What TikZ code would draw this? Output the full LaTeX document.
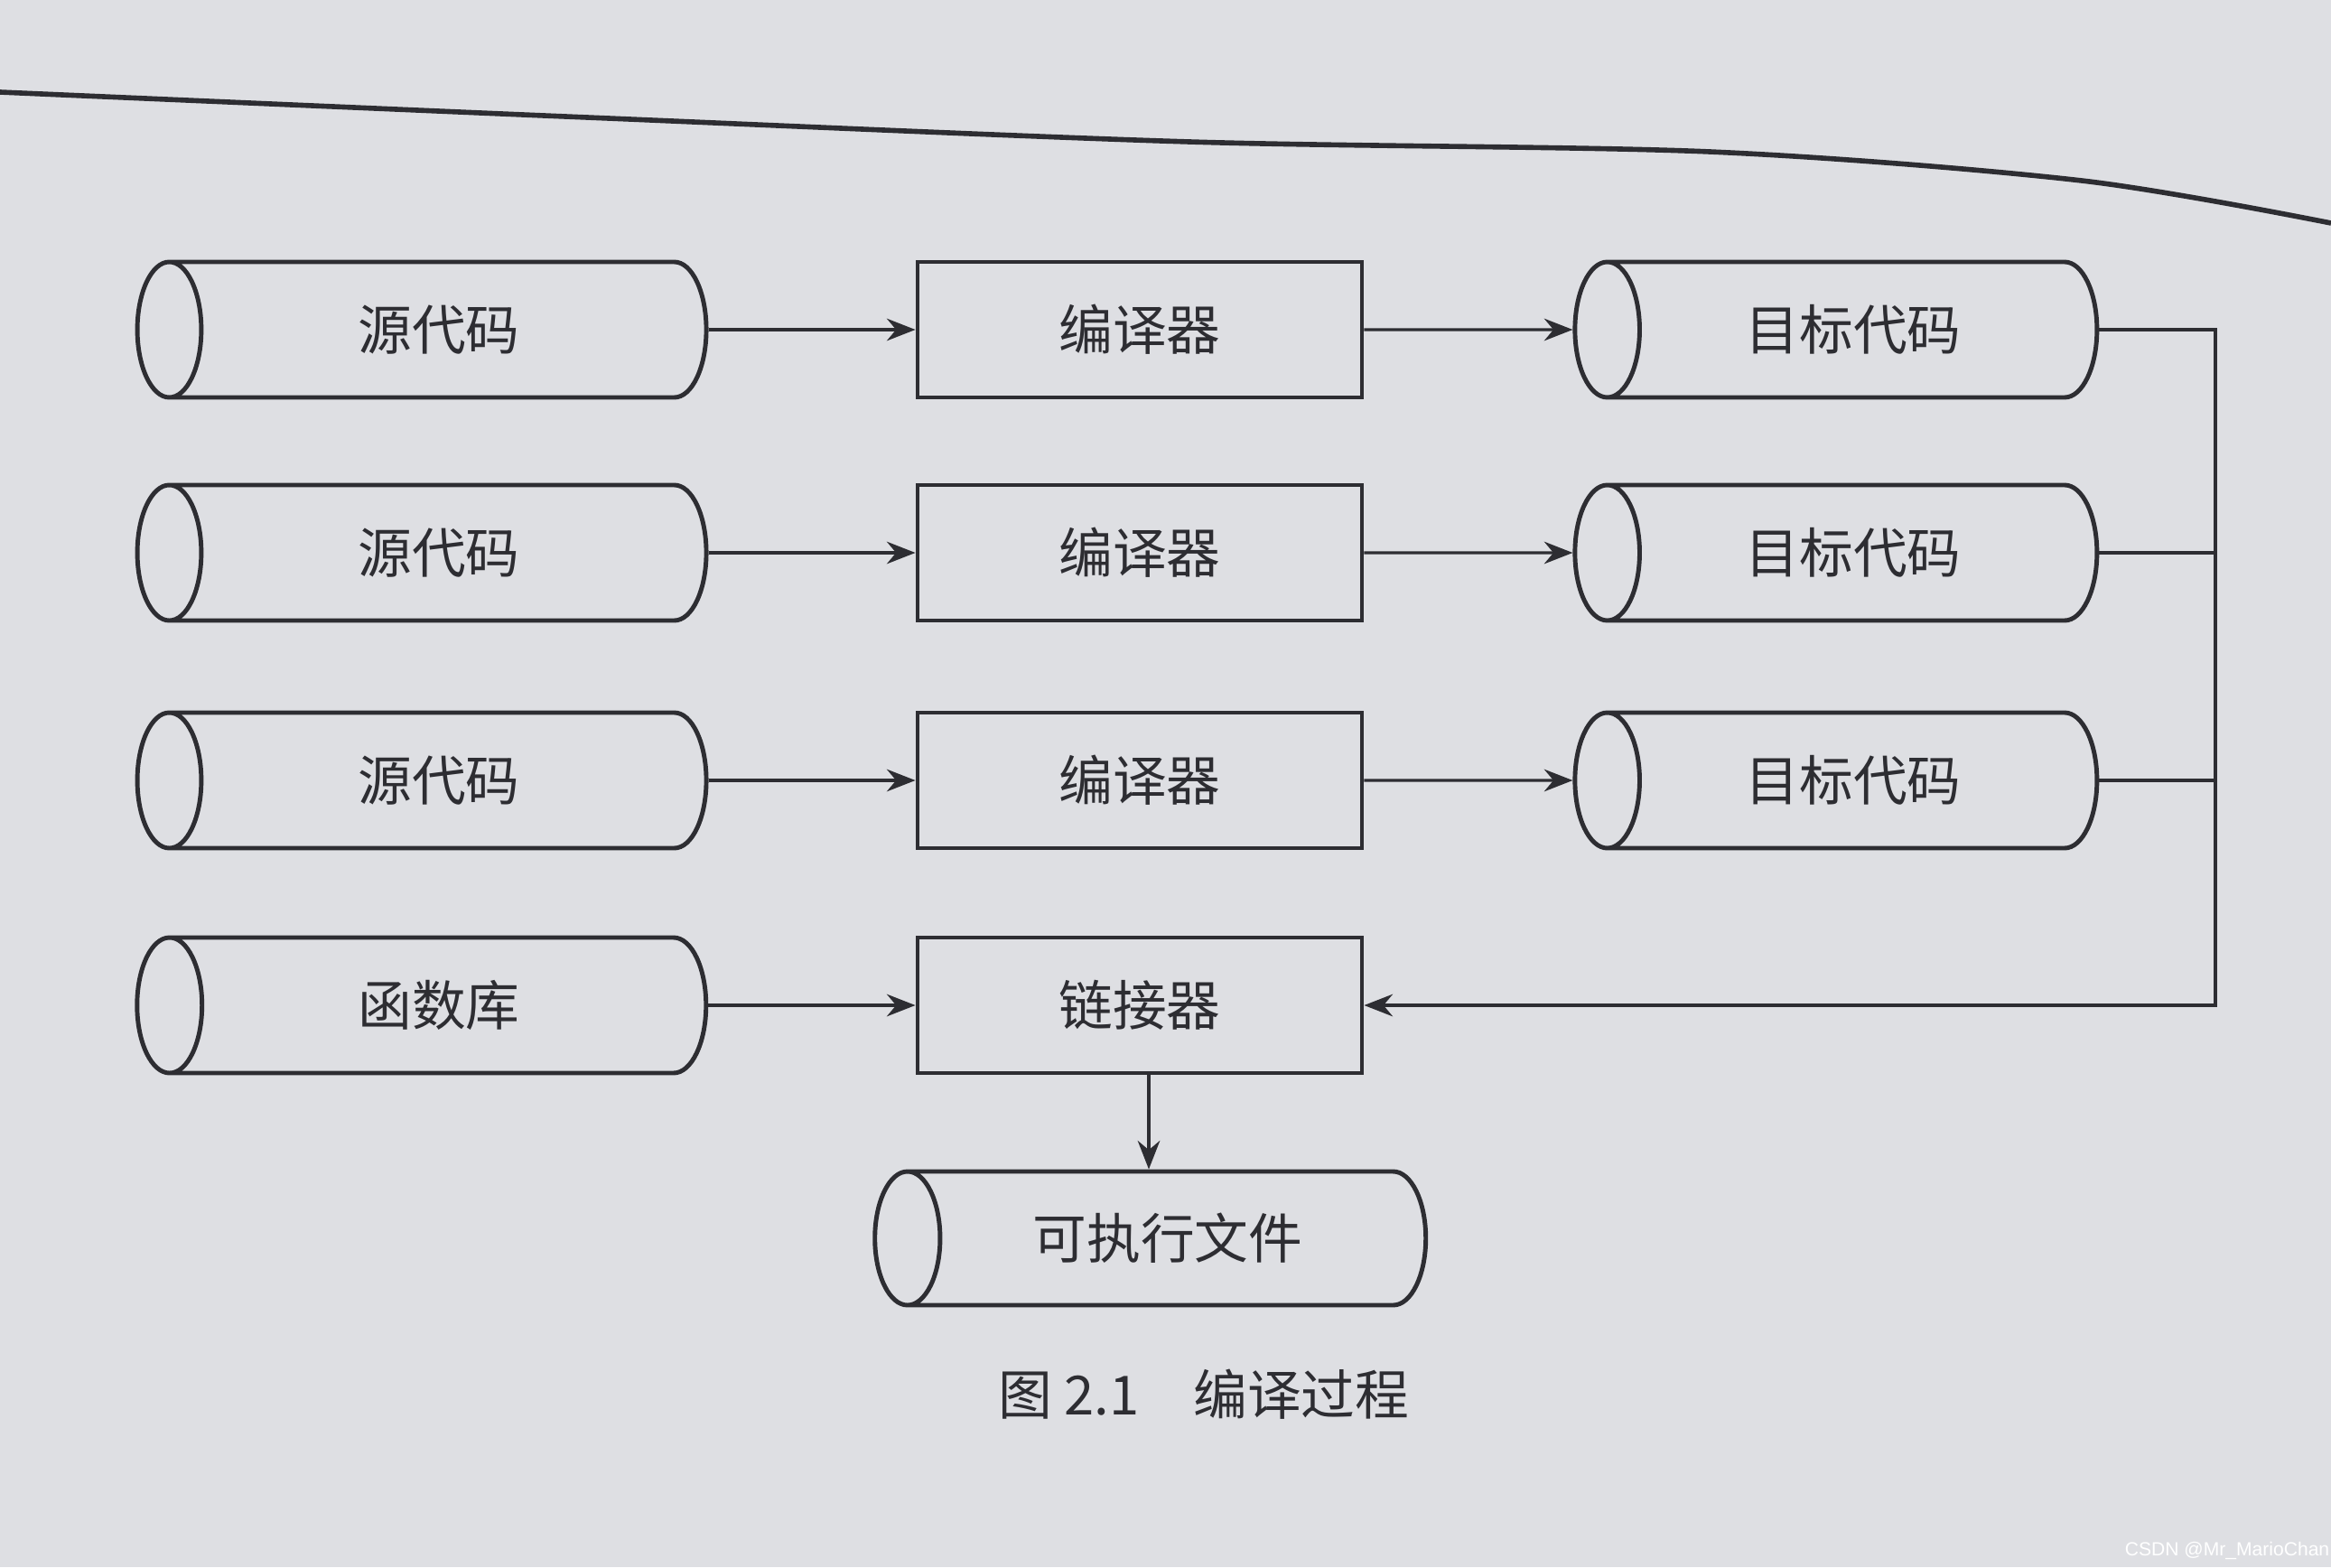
\documentclass[tikz,border=0pt]{standalone}
\usepackage{fontspec}
\newfontfamily\cjk{Noto Sans CJK SC}
\setsansfont{Liberation Sans}
\usetikzlibrary{shapes.geometric,arrows.meta,positioning}
\definecolor{paper}{RGB}{222,223,227}
\definecolor{ink}{RGB}{45,45,50}
\tikzset{
  store/.style={cylinder,shape border rotate=180,aspect=1.3,draw=ink,line width=1.4pt,
    minimum width=1.5cm,minimum height=6.3cm,inner sep=0pt,font=\cjk\fontsize{17}{20}\selectfont,text=ink},
  tool/.style={rectangle,draw=ink,line width=1.4pt,minimum width=4.92cm,minimum height=1.5cm,
    font=\cjk\fontsize{17}{20}\selectfont,text=ink},
  flow/.style={-{Stealth[length=9pt,width=7pt]},draw=ink,line width=0.9pt}
}
\begin{document}
\begin{tikzpicture}
\fill[paper] (0,0) rectangle (25.81,-17.35);
\useasboundingbox (0,0) rectangle (25.81,-17.35);
% page rule
\draw[ink,line width=1.6pt] plot[smooth] coordinates {(0,-1.02) (6.5,-1.30) (13.17,-1.57) (18.93,-1.68) (23.05,-2.00) (25.81,-2.47)};
% sources and compilers
\node[store] (src1) at (4.86,-3.65) {源代码};
\node[store] (src2) at (4.86,-6.12) {源代码};
\node[store] (src3) at (4.86,-8.64) {源代码};
\node[store] (lib) at (4.86,-11.13) {函数库};
\node[tool] (comp1) at (12.62,-3.65) {编译器};
\node[tool] (comp2) at (12.62,-6.12) {编译器};
\node[tool] (comp3) at (12.62,-8.64) {编译器};
\node[tool] (link) at (12.62,-11.13) {链接器};
\node[store,minimum height=6.1cm,minimum width=1.48cm] (exe) at (12.93,-13.71) {可执行文件};
\node[store,minimum height=5.78cm] (obj1) at (20.52,-3.65) {目标代码};
\node[store,minimum height=5.78cm] (obj2) at (20.52,-6.12) {目标代码};
\node[store,minimum height=5.78cm] (obj3) at (20.52,-8.64) {目标代码};
\coordinate (bus) at (24.53,-11.13);
\foreach \i in {1,2,3} {
  \draw[flow] (src\i.east) -- (comp\i.west);
  \draw[flow] (comp\i.east) -- (obj\i.west);
}
\draw[flow] (lib.east) -- (link.west);
\draw[flow] ([xshift=1mm]link.south) -- ([xshift=1mm]link.south |- exe.north);
\draw[ink,line width=0.9pt] (obj2.east) -- (obj2.east -| bus);
\draw[ink,line width=0.9pt] (obj3.east) -- (obj3.east -| bus);
\draw[flow] (obj1.east) -| (bus) -- (link.east);
% caption
\node[font=\cjk\fontsize{17}{20}\selectfont,text=ink] (cap) at (13.33,-15.44) {图 2.1\quad 编译过程};
\node[font=\sffamily\fontsize{6}{7}\selectfont,text=white] (mark) at (24.66,-17.17) {CSDN @Mr\_MarioChan};
\end{tikzpicture}
\end{document}
